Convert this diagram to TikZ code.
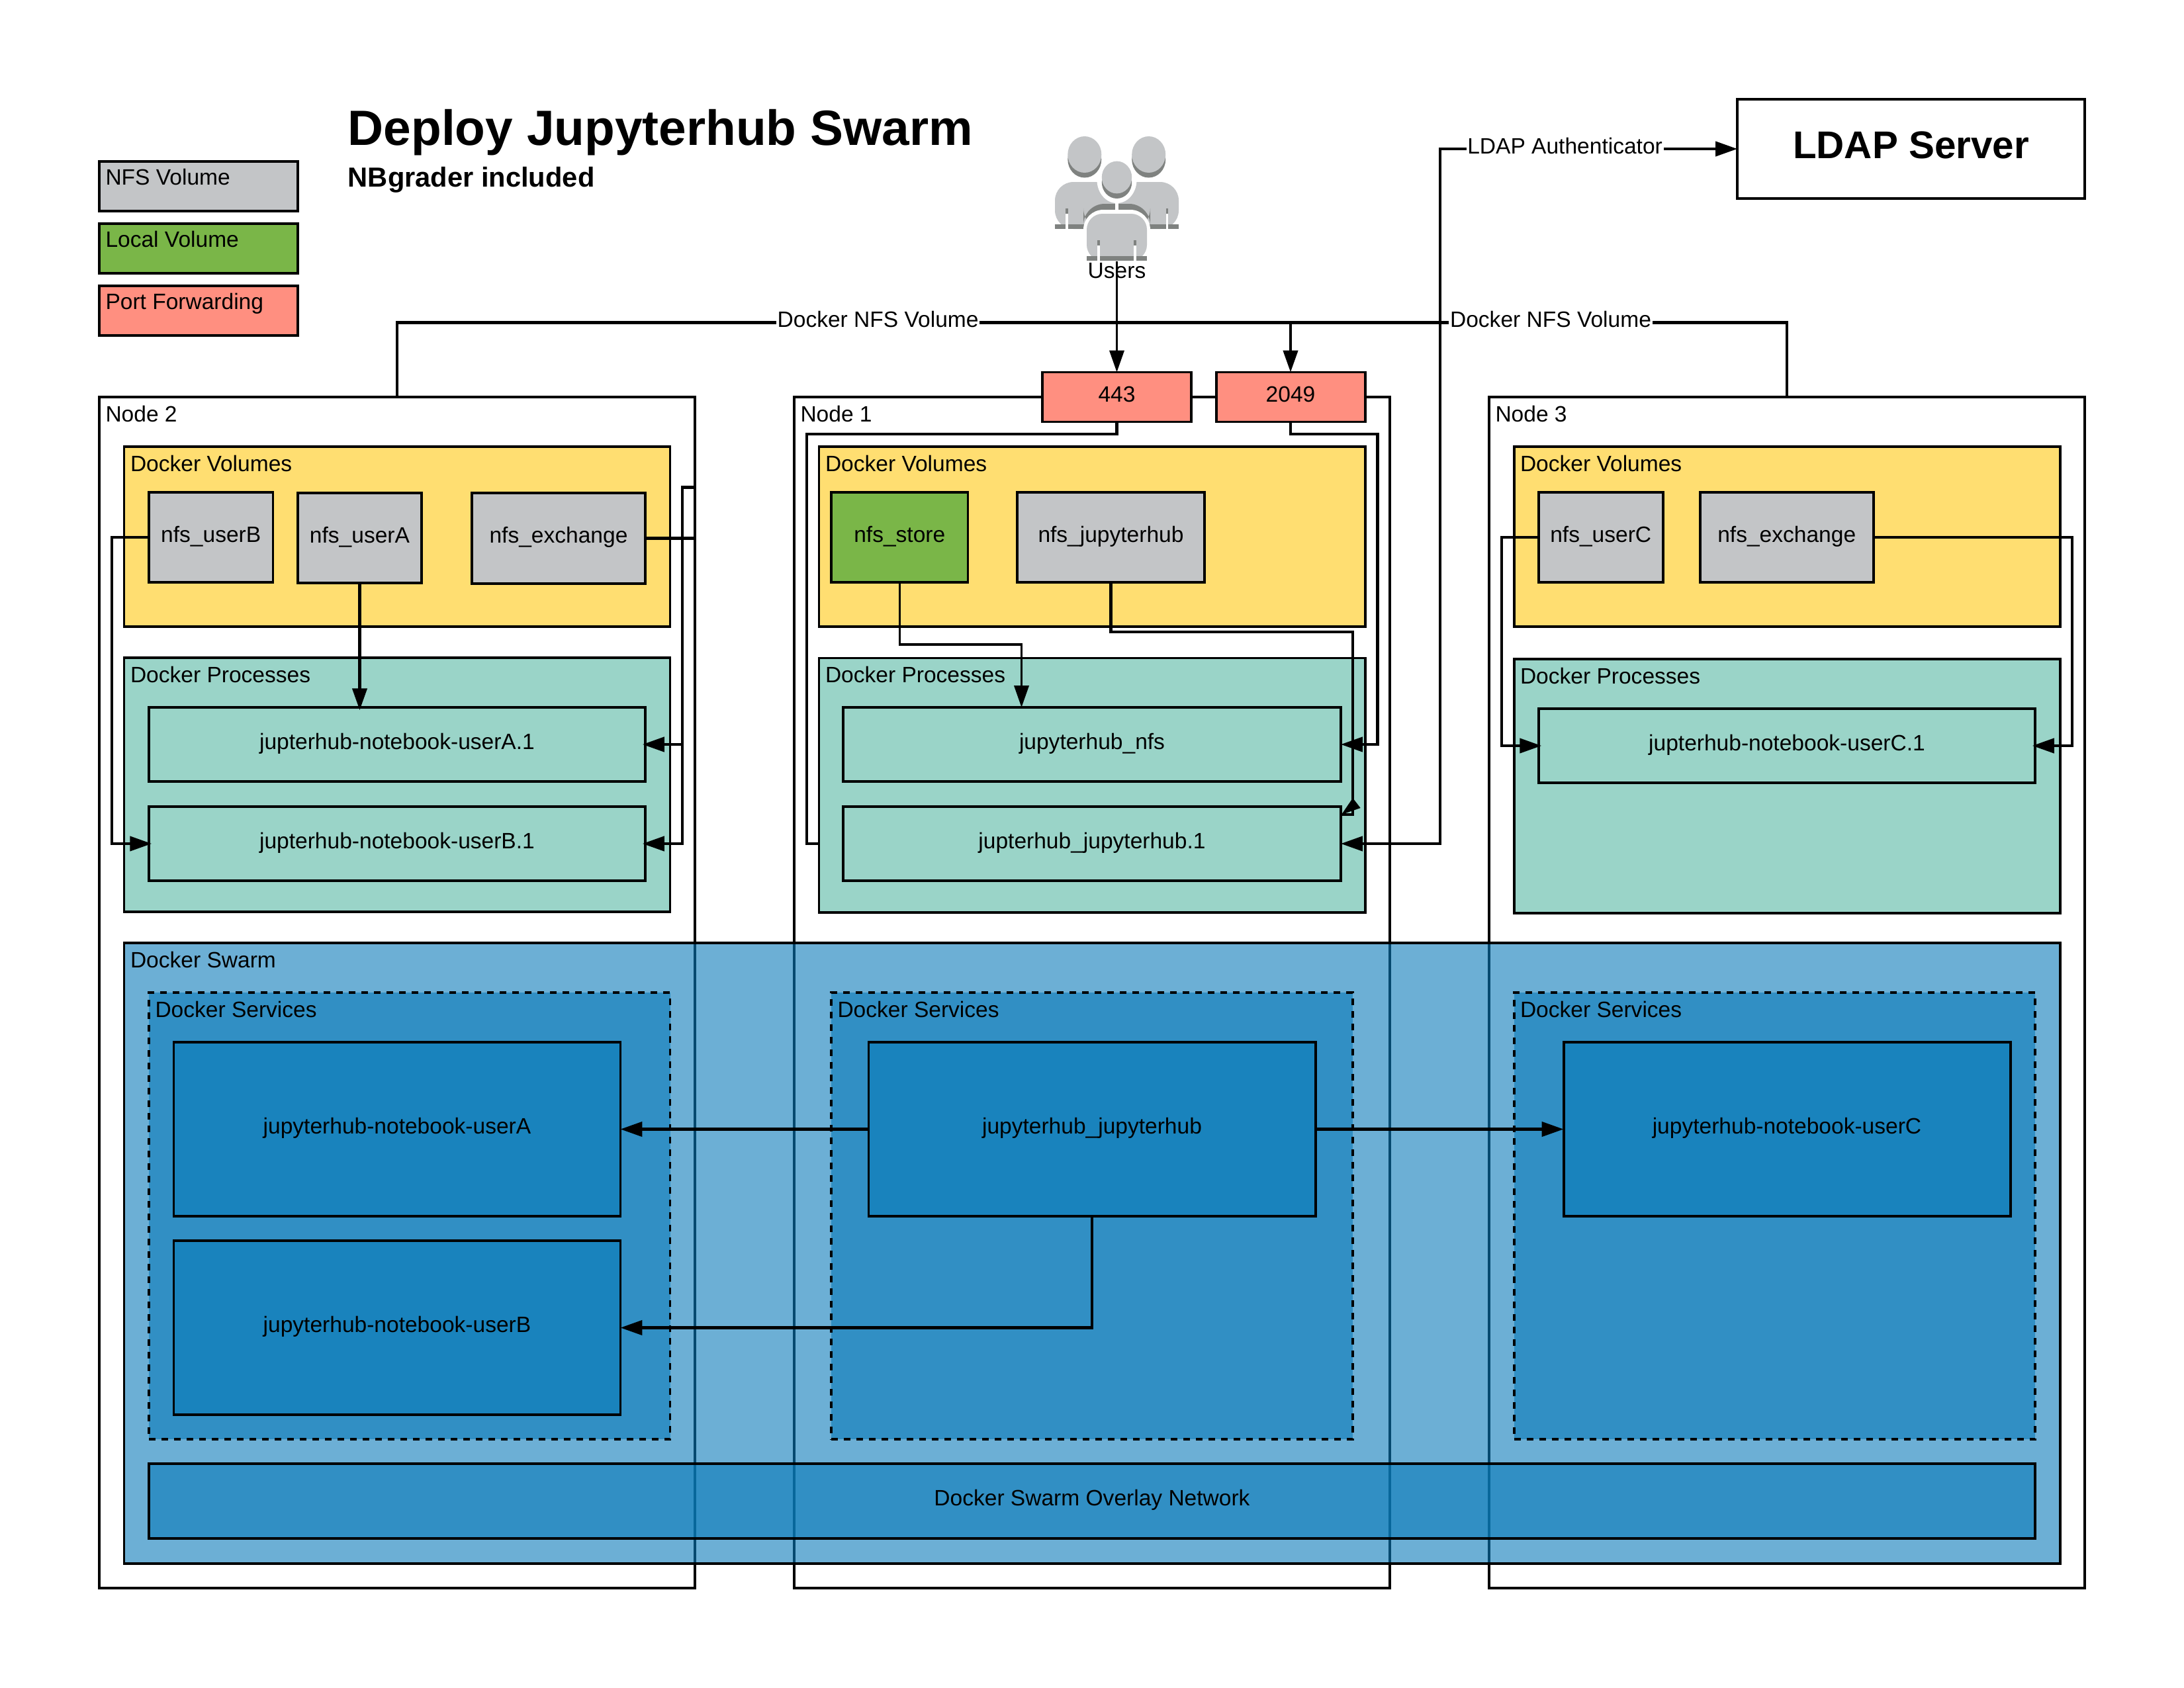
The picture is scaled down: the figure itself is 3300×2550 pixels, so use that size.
\documentclass[tikz,border=0pt]{standalone}
\usepackage{fontspec}
\setmainfont{Liberation Sans}
\usetikzlibrary{arrows.meta}
\pgfdeclarelayer{under}
\pgfsetlayers{under,main}
\definecolor{cyellow}{HTML}{FFDE71}
\definecolor{cteal}{HTML}{9AD4C8}
\definecolor{cgrey}{HTML}{C3C5C7}
\definecolor{cgreen}{HTML}{7AB648}
\definecolor{csalmon}{HTML}{FF8F80}
\definecolor{cblue}{RGB}{10,123,185}
\definecolor{cdark}{HTML}{7F8280}
\tikzset{
  >={Triangle[length=7.9pt,width=5.3pt]},
  bxbase/.style={draw=black,line width=0.95pt,rectangle,inner sep=0pt,outer sep=0pt,
    font=\fontsize{8.05pt}{10pt}\selectfont,text height=4.36pt,text depth=1pt,align=center},
  frame/.style={bxbase},
  volbg/.style={bxbase,fill=cyellow},
  procbg/.style={bxbase,fill=cteal},
  nfsbox/.style={bxbase,fill=cgrey},
  localbox/.style={bxbase,fill=cgreen},
  portbox/.style={bxbase,fill=csalmon},
  bluebox/.style={bxbase,fill=cblue,fill opacity=.6,text opacity=1},
  svcbox/.style={bluebox,dash pattern=on 2.4pt off 2.16pt},
  tagtxt/.style={anchor=base west,inner sep=0pt,outer sep=0pt,font=\fontsize{8.05pt}{10pt}\selectfont},
  conn/.style={draw=black,line width=0.98pt,line join=miter},
  thinconn/.style={draw=black,line width=0.8pt},
  over/.style={shorten >=-1pt},
  edgelab/.style={fill=white,inner xsep=0.4pt,inner ysep=1pt,font=\fontsize{8.05pt}{10pt}\selectfont,text height=4.36pt,text depth=1pt},
  head/.style={fill=cgrey},
  headd/.style={fill=cdark},
}
\newcommand\bx[7]{\node[#2,minimum width={(#5-#3)*0.24pt},minimum height={(#6-#4)*0.24pt}] (#1) at ({(#3+#5)/2},{(#4+#6)/2}) {#7};}
\newcommand\ctag[2]{\node[tagtxt] (#1-t) at ([shift={(9.5,37)}]#1.north west) {#2};}
\newcommand\ltag[2]{\node[tagtxt] (#1-t) at ([shift={(9.5,35)}]#1.north west) {#2};}
\begin{document}
\begin{tikzpicture}[x=0.24pt,y=-0.24pt]
\useasboundingbox (0,0) rectangle (3300,2550);
\begin{pgfonlayer}{under}
\fill[white] (0,0) rectangle (3300,2550);
\end{pgfonlayer}

% legend
\bx{legA}{nfsbox}{150}{244}{450}{319}{} \ltag{legA}{NFS Volume}
\bx{legB}{localbox}{150}{338}{450}{413}{} \ltag{legB}{Local Volume}
\bx{legC}{portbox}{150}{432}{450}{507}{} \ltag{legC}{Port Forwarding}

% titles
\node[anchor=base west,inner sep=0pt,font=\fontsize{17.96pt}{22pt}\selectfont\bfseries] (title) at (525,219) {Deploy Jupyterhub Swarm};
\node[anchor=base west,inner sep=0pt,font=\fontsize{10pt}{12pt}\selectfont\bfseries] (subtitle) at (525,282) {NBgrader included};

% LDAP
\bx{ldap}{bxbase,text height=8pt,font=\fontsize{14pt}{16pt}\selectfont\bfseries}{2625}{150}{3150}{300}{LDAP Server}

% node frames (below the swarm)
\begin{pgfonlayer}{under}
\bx{nB}{frame}{150}{600}{1050}{2400}{}
\bx{nA}{frame}{1200}{600}{2100}{2400}{}
\bx{nC}{frame}{2250}{600}{3150}{2400}{}
\end{pgfonlayer}
\ctag{nB}{Node 2}
\ctag{nA}{Node 1}
\ctag{nC}{Node 3}

% ports
\bx{pA}{portbox}{1575}{562.5}{1800}{637.5}{443}
\bx{pB}{portbox}{1837.5}{562.5}{2062.5}{637.5}{2049}

% Node 2 contents
\bx{volB}{volbg}{187.5}{675}{1012.5}{947}{} \ctag{volB}{Docker Volumes}
\bx{procB}{procbg}{187.5}{994}{1012.5}{1378}{} \ctag{procB}{Docker Processes}
\bx{nfsUB}{nfsbox}{225}{744}{412.5}{880}{nfs\_userB}
\bx{nfsUA}{nfsbox}{450}{745}{637}{881}{nfs\_userA}
\bx{nfsXB}{nfsbox}{713}{745}{975}{882}{nfs\_exchange}
\bx{jnA}{procbg}{225}{1069}{975}{1181}{jupterhub-notebook-userA.1}
\bx{jnB}{procbg}{225}{1219}{975}{1331}{jupterhub-notebook-userB.1}

% Node 1 contents
\bx{volA}{volbg}{1237.5}{675}{2062.5}{947}{} \ctag{volA}{Docker Volumes}
\bx{procA}{procbg}{1237.5}{994.5}{2062.5}{1379}{} \ctag{procA}{Docker Processes}
\bx{nfsS}{localbox}{1256}{744}{1462.5}{880}{nfs\_store}
\bx{nfsJ}{nfsbox}{1537}{744}{1820}{880}{nfs\_jupyterhub}
\bx{jhn}{procbg}{1274}{1069}{2026}{1181}{jupyterhub\_nfs}
\bx{jh1}{procbg}{1274}{1219}{2026}{1331}{jupterhub\_jupyterhub.1}

% Node 3 contents
\bx{volC}{volbg}{2287.5}{675}{3112.5}{947}{} \ctag{volC}{Docker Volumes}
\bx{procC}{procbg}{2287.5}{996}{3112.5}{1380}{} \ctag{procC}{Docker Processes}
\bx{nfsUC}{nfsbox}{2325}{744}{2512.5}{880}{nfs\_userC}
\bx{nfsXC}{nfsbox}{2568.5}{744}{2831}{880}{nfs\_exchange}
\bx{jnC}{procbg}{2325}{1071}{3075}{1183}{jupterhub-notebook-userC.1}

% Swarm
\bx{swarm}{bluebox}{187.5}{1425}{3112.5}{2362.5}{} \ctag{swarm}{Docker Swarm}
\bx{svB}{svcbox}{225}{1500}{1012.5}{2175}{} \ctag{svB}{Docker Services}
\bx{svA}{svcbox}{1256}{1500}{2044}{2175}{} \ctag{svA}{Docker Services}
\bx{svC}{svcbox}{2287.5}{1500}{3075}{2175}{} \ctag{svC}{Docker Services}
\bx{sUA}{bluebox}{262.5}{1575}{937.5}{1838}{jupyterhub-notebook-userA}
\bx{sUB}{bluebox}{262.5}{1875}{937.5}{2138}{jupyterhub-notebook-userB}
\bx{sJ}{bluebox}{1312.5}{1575}{1987.5}{1838}{jupyterhub\_jupyterhub}
\bx{sUC}{bluebox}{2362.5}{1575}{3037.5}{1838}{jupyterhub-notebook-userC}
\bx{ovl}{bluebox}{225}{2212}{3075}{2325}{Docker Swarm Overlay Network}

% Users icon
\begin{scope}
  \fill[cgrey,rounded corners=28*0.24pt] (1594,346) -- (1594,275) -- (1781,275) -- (1781,346) -- cycle;
  \fill[cdark] (1594,339) rectangle (1781,346);
  \fill[cdark] (1610,315) rectangle (1613.5,323);
  \fill[white] (1610,323) rectangle (1613.5,346);
  \fill[cdark] (1761.5,315) rectangle (1765,323);
  \fill[white] (1761.5,323) rectangle (1765,346);
  \fill[cdark,rounded corners=32*0.24pt] (1637,347) -- (1637,308) -- (1738,308) -- (1738,347) -- cycle;
  \fill[white,rounded corners=30*0.24pt] (1637,398) -- (1637,317) -- (1738,317) -- (1738,398) -- cycle;
  \fill[white] (1684.8,298) rectangle (1690,318);
  \fill[cgrey,rounded corners=24*0.24pt] (1642,394) -- (1642,323) -- (1733,323) -- (1733,394) -- cycle;
  \fill[cdark] (1642,386.5) rectangle (1733,394);
  \fill[cdark] (1658,363) rectangle (1661.5,370.5);
  \fill[white] (1658,370.5) rectangle (1661.5,394);
  \fill[cdark] (1713,363) rectangle (1716.5,370.5);
  \fill[white] (1713,370.5) rectangle (1716.5,394);
  \fill[white] (1687.5,272) ellipse [x radius=30,y radius=35];
  \fill[headd] (1638.8,241) ellipse [x radius=25.5,y radius=27.5];
  \fill[head] (1638.8,233.5) ellipse [x radius=25.5,y radius=27.5];
  \fill[headd] (1735.7,241) ellipse [x radius=25.5,y radius=27.5];
  \fill[head] (1735.7,233.5) ellipse [x radius=25.5,y radius=27.5];
  \fill[headd] (1687.5,275.6) ellipse [x radius=22.7,y radius=24.4];
  \fill[head] (1687.5,268) ellipse [x radius=22.7,y radius=24.4];
\end{scope}
\node[inner sep=0pt,outer sep=0pt,minimum width=187*0.24pt,minimum height=189*0.24pt] (users) at (1687.5,300.5) {};
\node[tagtxt,anchor=base] (userslab) at (1687.5,420) {Users};

% connectors
\begin{pgfonlayer}{under}
\draw[conn] (pA.south) -- ++(0,18.5) -- ++(-468.5,0) |- (jh1.west);
\end{pgfonlayer}
\draw[thinconn,->] (users.south) -- (pA.north);
\draw[conn] (nB.north) -- ++(0,-112.5)
   -- node[edgelab,pos=.346] (lblNA) {Docker NFS Volume}
      node[edgelab,pos=.83] (lblNB) {Docker NFS Volume} ++(2100,0) -- (nC.north);
\draw[conn,->] (pB.north) ++(0,-75) -- (pB.north);
\draw[conn,->] (pB.south) -- ++(0,18.5) -- ++(131.5,0) |- (jhn.east);
\draw[conn,<->] (jh1.east) -- ++(150,0) -- ++(0,-1050)
   -- node[edgelab,pos=.42] (lblL) {LDAP Authenticator} (ldap.west);

\draw[thinconn,->] (nfsS.south) -- ++(0,94) -- ++(184.25,0) coordinate (nfsSc) -- (nfsSc |- jhn.north);
\draw[conn] (nfsJ.south) -- ++(0,75) -- ++(365.5,0) -- ++(0,276) -- ([shift={(0,12)}]jh1.north east);
\fill[black] ([shift={(18,-13)}]jh1.north east) -- ([shift={(29.6,2)}]jh1.north east) -- ([shift={(1,12)}]jh1.north east) -- cycle;

\draw[conn,->,over] (nfsUA.south) -- (nfsUA.south |- jnA.north);
\draw[conn,->,over] (nfsUB.west) -- ++(-56,0) |- (jnB.west);
\draw[conn,->,over] (nfsXB.east) -- ++(75,0) -- ++(0,-77) -- ++(-19,0) coordinate (busB) |- (jnB.east);
\draw[conn,->,over] (busB |- jnA.east) -- (jnA.east);

\draw[conn,->,over] (nfsUC.west) -- ++(-56,0) |- (jnC.west);
\draw[conn,->,over] (nfsXC.east) -- ++(300,0) |- (jnC.east);

\draw[conn,->] (sJ.west) -- (sUA.east);
\draw[conn,->] (sJ.east) -- (sUC.west);
\draw[conn,->] (sJ.south) |- (sUB.east);
\end{tikzpicture}
\end{document}
